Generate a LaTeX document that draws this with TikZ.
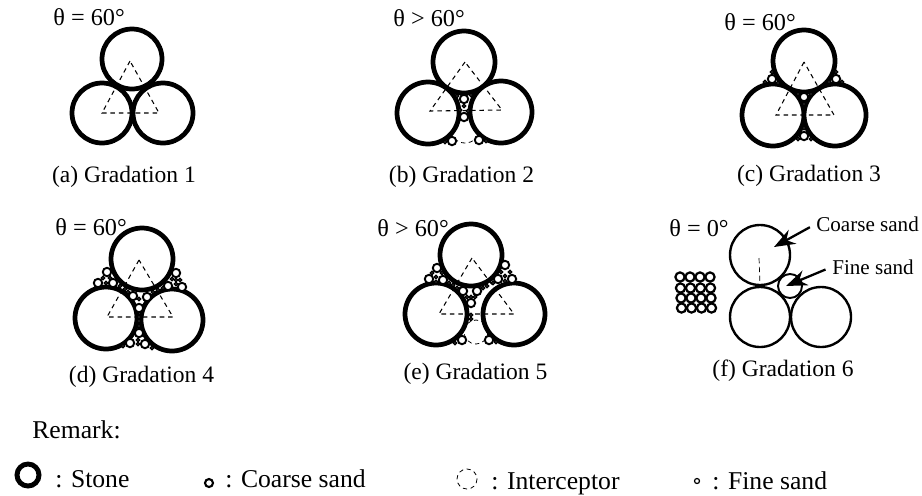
\documentclass[tikz,border=0pt]{standalone}
\usepackage{fontspec}
\setmainfont{Liberation Serif}
\usetikzlibrary{arrows.meta, positioning}

\begin{document}
\begin{tikzpicture}[
    x=0.02cm, y=-0.02cm,
    stone/.style={draw, fill=white, line width=2.7pt},
    thinstone/.style={line width=1.35pt},
    coarse/.style={draw, fill=white, line width=1.1pt},
    fine/.style={draw, fill=white, line width=0.8pt},
    interceptor/.style={draw, line width=0.45pt, dash pattern=on 2.4pt off 2pt},
    tri/.style={draw, line width=0.6pt, dash pattern=on 2.6pt off 2.2pt},
    lbltxt/.style={anchor=base west, inner sep=0pt, font=\fontsize{13.8}{16}\selectfont},
    keytxt/.style={anchor=base west, inner sep=0pt, font=\fontsize{14.6}{16}\selectfont},
    sandtxt/.style={anchor=base west, inner sep=0pt, font=\fontsize{12}{14}\selectfont},
    captxt/.style={anchor=base, inner sep=0pt, font=\fontsize{13.4}{16}\selectfont},
    arrow/.style={-{Stealth[length=12pt, width=9pt, inset=4pt]}, line width=1.3pt, shorten <=4pt}
]
\useasboundingbox (0,0) rectangle (922,495);

% (a)
\foreach \x/\y in {132/59, 102/113, 163/113} \draw[stone] (\x,\y) circle (30);
\draw[tri] (130,61) -- (102,113) -- (159,113) -- cycle;
\node[lbltxt] (tha) at (53,25) {θ = 60°};
\node[captxt] (capa) at (124,182) {(a) Gradation 1};

% (b)
\draw[interceptor] (465,128) circle (15);
\foreach \x/\y in {464/62, 428/113, 501/112} \draw[stone] (\x,\y) circle (31);
\draw[tri] (465,62) -- (430,111) -- (502,110) -- cycle;
\foreach \x/\y in {464/99, 464/117, 452/141, 479/140} \draw[coarse] (\x,\y) circle (4.2);
\foreach \x/\y in {457/96, 471/95, 464/106, 460/110, 468/111, 445/142, 486/141} \draw[fine] (\x,\y) circle (1.7);
\node[lbltxt] (thb) at (393,26) {θ > 60°};
\node[captxt] (capb) at (461.5,182) {(b) Gradation 2};

% (c)
\foreach \x/\y in {804/61, 773/115, 835/115} \draw[stone] (\x,\y) circle (31);
\draw[tri] (804,62) -- (776,115) -- (834,115) -- cycle;
\foreach \x/\y in {804/97, 804/136, 772/79, 836/79} \draw[coarse] (\x,\y) circle (4.2);
\foreach \x/\y in {772/72, 765/82, 778/83, 836/72, 829/82, 842/82, 798/94, 811/94, 804/104, 804/128, 798/139, 811/139}
    \draw[fine] (\x,\y) circle (1.7);
\node[lbltxt] (thc) at (724,30) {θ = 60°};
\node[captxt] (capc) at (809,181) {(c) Gradation 3};

% (d)
\foreach \x/\y in {142/259, 106/318, 172/320} \draw[stone] (\x,\y) circle (31);
\draw[tri] (139,260) -- (107,317) -- (173,317) -- cycle;
\foreach \x/\y in {107/272, 98/283, 113/283, 176/273, 168/286, 182/287, 133/296, 147/297, 139/308, 139/333, 130/343, 145/344}
    \draw[coarse] (\x,\y) circle (4.2);
\foreach \x/\y in {106/283, 103/278, 110/278, 120/286, 125/289, 128/292, 139/299, 139/317, 139/321, 139/326, 138/340, 138/344, 123/346, 152/348, 176/280, 172/279, 180/280, 176/284, 158/290, 153/292, 163/288}
    \draw[fine] (\x,\y) circle (1.7);
\node[lbltxt] (thd) at (55,235) {θ = 60°};
\node[captxt] (capd) at (141.5,382) {(d) Gradation 4};

% (e)
\draw[interceptor] (476,332) circle (12);
\foreach \x/\y in {471/255, 436/314, 514/314} \draw[stone] (\x,\y) circle (31);
\draw[tri] (472,258) -- (439,314) -- (514,314) -- cycle;
\foreach \x/\y in {437/268, 429/279, 443/280, 505/265, 498/279, 512/279, 463/291, 477/291, 471/303, 462/340, 489/340}
    \draw[coarse] (\x,\y) circle (4.2);
\foreach \x/\y in {432/273, 442/273, 436/277, 436/282, 449/283, 453/285, 457/288, 501/272, 510/272, 505/276, 505/281, 493/283, 487/286, 483/288, 467/297, 475/297, 471/297, 471/315, 471/319, 455/343, 496/342}
    \draw[fine] (\x,\y) circle (1.7);
\node[lbltxt] (the) at (377,236) {θ > 60°};
\node[captxt] (cape) at (475.5,379) {(e) Gradation 5};

% (f)
\draw[densely dashed, line width=0.4pt] (759,258) -- (760,285);
\foreach \x/\y in {760/255, 760/317, 821/317} \draw[thinstone] (\x,\y) circle (30);
\draw[line width=1.1pt] (790,286) circle (12);
\foreach \y/\s in {277/0, 288/0.5, 298/1, 308/1.5}
    \foreach \x in {680,690,700,710}
        \draw[line width=1.25pt] (\x+\s,\y) circle (4.6);
\node[lbltxt] (thf) at (669,236) {θ = 0°};
\node[sandtxt] (coarsetxt) at (816,231) {Coarse sand};
\node[sandtxt] (finetxt) at (832,274) {Fine sand};
\coordinate (coarsetip) at (774,247);
\coordinate (finetip) at (786,286);
\draw[arrow] (coarsetxt.west) -- (coarsetip);
\draw[arrow] (finetxt.west) -- (finetip);
\node[captxt] (capf) at (783,376) {(f) Gradation 6};

% remark
\node[keytxt] (remark) at (32,438) {Remark:};
\draw[line width=2.8pt] (28,475) circle (11);
\node[keytxt] (stonetxt) at (55,487) {: Stone};
\draw[line width=1.2pt] (209,483) circle (4);
\node[keytxt] (coarsekey) at (225,487) {: Coarse sand};
\draw[interceptor] (467,479) circle (10);
\node[keytxt] (intkey) at (491,489) {: Interceptor};
\draw[line width=0.7pt] (697,481) circle (2.5);
\node[keytxt] (finekey) at (712,489) {: Fine sand};
\end{tikzpicture}
\end{document}
